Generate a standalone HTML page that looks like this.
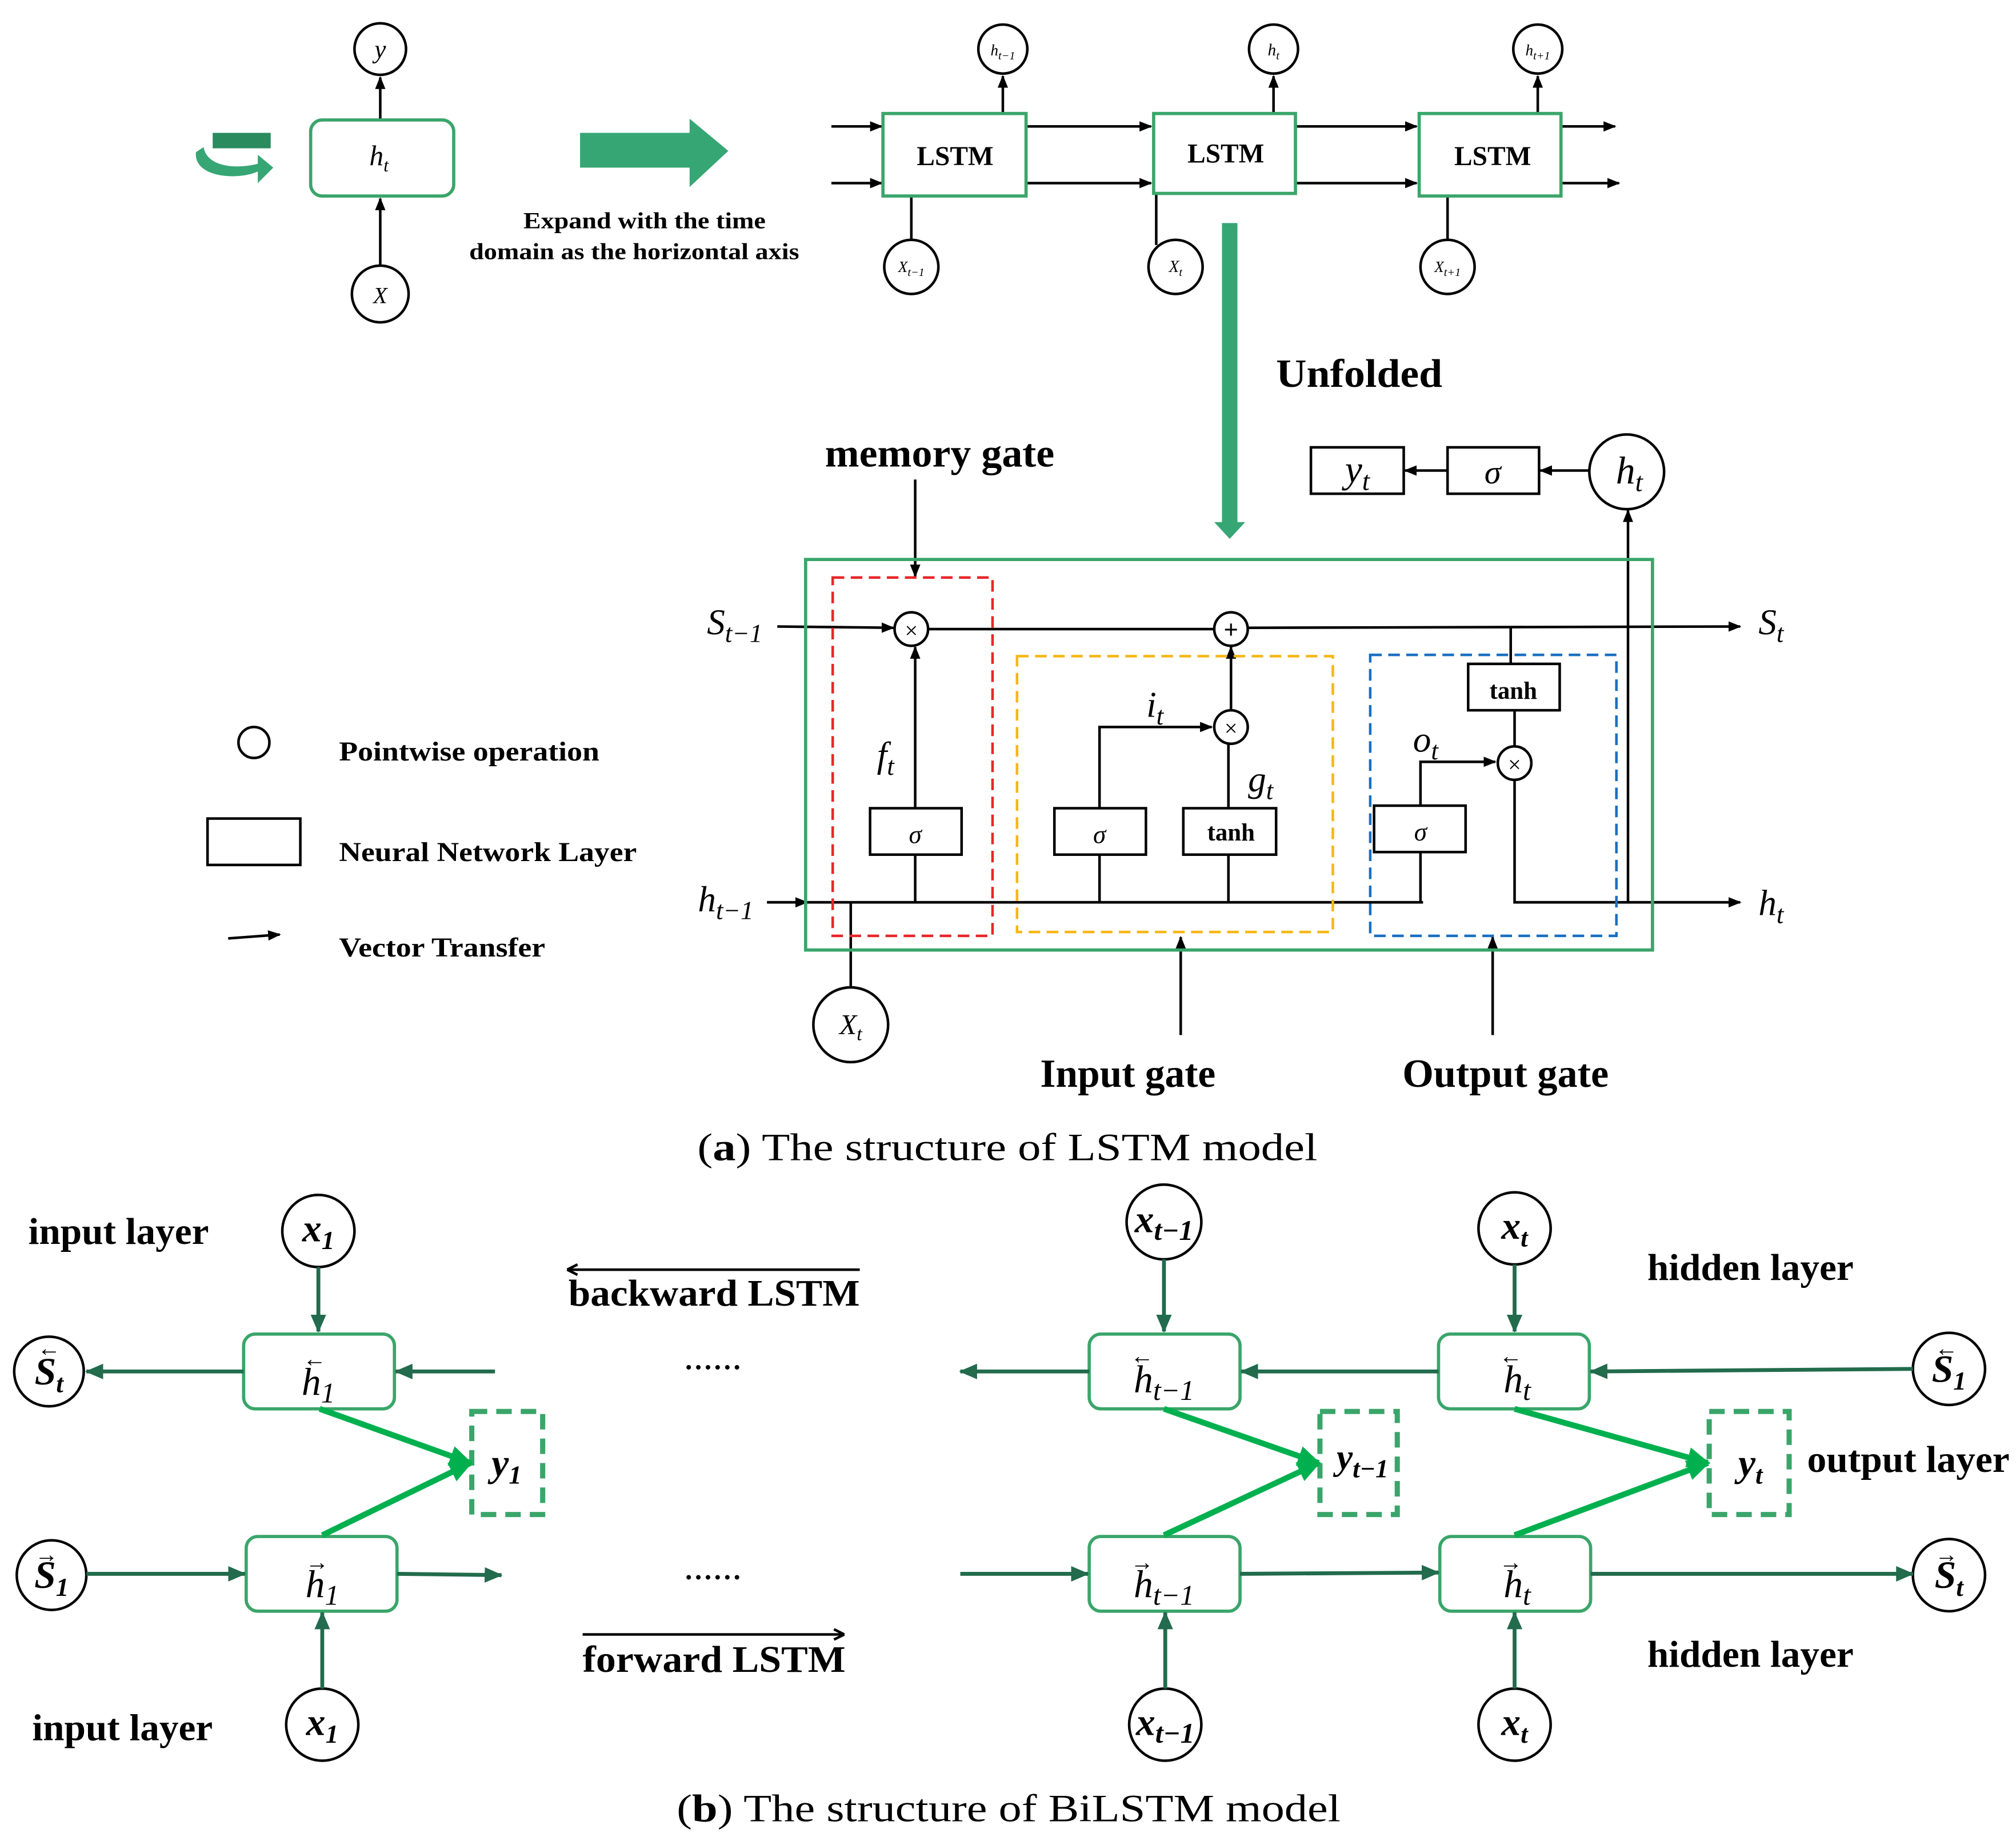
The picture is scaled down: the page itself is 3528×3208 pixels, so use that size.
<!DOCTYPE html>
<html><head><meta charset="utf-8"><style>html,body{margin:0;padding:0;background:#fff}svg{display:block}</style></head>
<body>
<svg width="3528" height="3208" viewBox="0 0 1564 1422" xmlns="http://www.w3.org/2000/svg" font-family="Liberation Serif, serif">
<defs>
<marker id="a" markerWidth="10" markerHeight="8" refX="9" refY="4" orient="auto" markerUnits="userSpaceOnUse"><path d="M0,0 L10,4 L0,8 Z" fill="#000"/></marker>
<marker id="g" markerWidth="14" markerHeight="12" refX="13" refY="6" orient="auto" markerUnits="userSpaceOnUse"><path d="M0,0 L14,6 L0,12 Z" fill="#226b4d"/></marker>
<marker id="b" markerWidth="18" markerHeight="16" refX="16" refY="8" orient="auto" markerUnits="userSpaceOnUse"><path d="M0,0 L18,8 L0,16 Z" fill="#00b04f"/></marker>
</defs>
<g fill="none" stroke="#000" stroke-width="2">
<circle cx="295" cy="38" r="20"/><circle cx="295" cy="228" r="22"/>
<line x1="295" y1="206" x2="295" y2="154" marker-end="url(#a)"/>
<line x1="295" y1="93" x2="295" y2="60" marker-end="url(#a)"/>
<circle cx="778" cy="38" r="19"/><circle cx="988" cy="38" r="19"/><circle cx="1193" cy="38" r="19"/>
<circle cx="707" cy="207" r="21"/><circle cx="912" cy="207" r="21"/><circle cx="1123" cy="207" r="21"/>
<line x1="778" y1="88" x2="778" y2="59" marker-end="url(#a)"/>
<line x1="988" y1="88" x2="988" y2="59" marker-end="url(#a)"/>
<line x1="1193" y1="88" x2="1193" y2="59" marker-end="url(#a)"/>
<line x1="707" y1="152" x2="707" y2="186"/><line x1="897" y1="150" x2="897" y2="190"/><line x1="1123" y1="152" x2="1123" y2="186"/>
<line x1="645" y1="98" x2="684" y2="98" marker-end="url(#a)"/><line x1="645" y1="142" x2="684" y2="142" marker-end="url(#a)"/>
<line x1="796" y1="98" x2="893" y2="98" marker-end="url(#a)"/><line x1="796" y1="142" x2="893" y2="142" marker-end="url(#a)"/>
<line x1="1005" y1="98" x2="1099" y2="98" marker-end="url(#a)"/><line x1="1005" y1="142" x2="1099" y2="142" marker-end="url(#a)"/>
<line x1="1211" y1="98" x2="1253" y2="98" marker-end="url(#a)"/><line x1="1211" y1="142" x2="1256" y2="142" marker-end="url(#a)"/>
<line x1="603" y1="486" x2="693" y2="487" marker-end="url(#a)"/>
<circle cx="707" cy="488" r="13"/><circle cx="955" cy="488" r="13"/>
<line x1="720" y1="488" x2="942" y2="488"/><line x1="968" y1="487" x2="1350" y2="486" marker-end="url(#a)"/>
<line x1="710" y1="372" x2="710" y2="447" marker-end="url(#a)"/>
<rect x="675" y="627" width="71" height="36"/>
<line x1="710" y1="627" x2="710" y2="502" marker-end="url(#a)"/>
<line x1="710" y1="663" x2="710" y2="700"/>
<line x1="595" y1="700" x2="626" y2="700" marker-end="url(#a)"/>
<line x1="626" y1="700" x2="1104" y2="700"/>
<line x1="660" y1="700" x2="660" y2="766"/><circle cx="660" cy="795" r="29"/>
<rect x="818" y="627" width="71" height="36"/><rect x="918" y="627" width="72" height="36"/>
<line x1="853" y1="700" x2="853" y2="663"/><line x1="953" y1="700" x2="953" y2="663"/>
<polyline points="853,627 853,564 940,564" marker-end="url(#a)"/>
<circle cx="955" cy="564" r="13"/>
<line x1="953" y1="627" x2="953" y2="577"/>
<line x1="955" y1="551" x2="955" y2="502" marker-end="url(#a)"/>
<rect x="1066" y="625" width="71" height="36"/>
<line x1="1102" y1="700" x2="1102" y2="661"/>
<polyline points="1102,625 1102,591 1160,591" marker-end="url(#a)"/>
<circle cx="1175" cy="592" r="13"/>
<rect x="1139" y="515" width="71" height="36"/>
<line x1="1172" y1="486" x2="1172" y2="515"/><line x1="1175" y1="551" x2="1175" y2="579"/>
<polyline points="1175,605 1175,700 1350,700" marker-end="url(#a)"/>
<line x1="1263" y1="700" x2="1263" y2="396" marker-end="url(#a)"/>
<circle cx="1262" cy="366" r="29"/>
<rect x="1017" y="347" width="72" height="36"/><rect x="1123" y="347" width="71" height="36"/>
<line x1="1233" y1="365" x2="1195" y2="365" marker-end="url(#a)"/>
<line x1="1123" y1="365" x2="1090" y2="365" marker-end="url(#a)"/>
<line x1="916" y1="803" x2="916" y2="727" marker-end="url(#a)"/>
<line x1="1158" y1="803" x2="1158" y2="727" marker-end="url(#a)"/>
<circle cx="197" cy="576" r="12"/><rect x="161" y="635" width="72" height="36"/>
<line x1="177" y1="728" x2="217" y2="725" marker-end="url(#a)"/>
<circle cx="247" cy="955" r="28"/><circle cx="38" cy="1064" r="27"/><circle cx="40" cy="1222" r="27"/><circle cx="250" cy="1338" r="28"/>
<circle cx="903" cy="948" r="29"/><circle cx="1175" cy="953" r="28"/><circle cx="1512" cy="1062" r="28"/><circle cx="1512" cy="1222" r="28"/>
<circle cx="904" cy="1338" r="28"/><circle cx="1175" cy="1338" r="28"/>
<line x1="440" y1="985" x2="667" y2="985"/><path d="M440,985 l8,-4 M440,985 l8,4"/>
<line x1="452" y1="1268" x2="655" y2="1268"/><path d="M655,1268 l-8,-4 M655,1268 l-8,4"/>
</g>
<g fill="none" stroke="#3aa56a" stroke-width="2.5">
<rect x="241" y="93" width="111" height="59" rx="9"/>
<rect x="685" y="88" width="111" height="64"/><rect x="895" y="88" width="110" height="62"/><rect x="1101" y="88" width="110" height="64"/>
<rect x="625" y="434" width="657" height="303"/>
<rect x="189" y="1035" width="117" height="58" rx="9"/><rect x="191" y="1192" width="117" height="58" rx="9"/>
<rect x="845" y="1035" width="117" height="58" rx="9"/><rect x="1116" y="1035" width="117" height="58" rx="9"/>
<rect x="845" y="1192" width="117" height="58" rx="9"/><rect x="1117" y="1192" width="117" height="58" rx="9"/>
</g>
<g fill="none" stroke="#3aa56a" stroke-width="4" stroke-dasharray="12,7">
<rect x="366" y="1095" width="55" height="80"/><rect x="1024" y="1095" width="60" height="80"/><rect x="1326" y="1095" width="62" height="80"/>
</g>
<g fill="none" stroke-width="2" stroke-dasharray="9,5">
<rect x="646" y="448" width="124" height="278" stroke="#e8262a"/>
<rect x="789" y="509" width="245" height="214" stroke="#f5b716"/>
<rect x="1063" y="508" width="191" height="218" stroke="#1a6fc0"/>
</g>
<path d="M450,103 H535 V92 L565,117 L535,145 V130 H450 Z" fill="#36a674"/>
<path d="M948,173 H960 V405 H966 L954,418 L942,405 H948 Z" fill="#36a674"/>
<path d="M152,118 C150,138 185,140 200,133 L200,142 L212,130 L200,120 L200,127 C180,132 160,128 158,114 Z" fill="#36a674"/>
<rect x="165" y="103" width="45" height="12" fill="#2a8b5e"/>
<g stroke="#226b4d" stroke-width="3" fill="none">
<line x1="247" y1="983" x2="247" y2="1033" marker-end="url(#g)"/>
<line x1="189" y1="1064" x2="67" y2="1064" marker-end="url(#g)"/>
<line x1="384" y1="1064" x2="307" y2="1064" marker-end="url(#g)"/>
<line x1="67" y1="1221" x2="190" y2="1221" marker-end="url(#g)"/>
<line x1="308" y1="1221" x2="389" y2="1222" marker-end="url(#g)"/>
<line x1="250" y1="1310" x2="250" y2="1251" marker-end="url(#g)"/>
<line x1="903" y1="977" x2="903" y2="1033" marker-end="url(#g)"/>
<line x1="1175" y1="981" x2="1175" y2="1033" marker-end="url(#g)"/>
<line x1="1484" y1="1062" x2="1234" y2="1064" marker-end="url(#g)"/>
<line x1="1116" y1="1064" x2="963" y2="1064" marker-end="url(#g)"/>
<line x1="845" y1="1064" x2="745" y2="1064" marker-end="url(#g)"/>
<line x1="745" y1="1221" x2="844" y2="1221" marker-end="url(#g)"/>
<line x1="962" y1="1221" x2="1116" y2="1220" marker-end="url(#g)"/>
<line x1="1234" y1="1221" x2="1484" y2="1221" marker-end="url(#g)"/>
<line x1="904" y1="1310" x2="904" y2="1251" marker-end="url(#g)"/>
<line x1="1175" y1="1310" x2="1175" y2="1251" marker-end="url(#g)"/>
</g>
<g stroke="#00b04f" stroke-width="4.5" fill="none">
<line x1="248" y1="1093" x2="365" y2="1135" marker-end="url(#b)"/>
<line x1="250" y1="1191" x2="365" y2="1135" marker-end="url(#b)"/>
<line x1="903" y1="1093" x2="1023" y2="1135" marker-end="url(#b)"/>
<line x1="903" y1="1191" x2="1023" y2="1135" marker-end="url(#b)"/>
<line x1="1175" y1="1093" x2="1325" y2="1135" marker-end="url(#b)"/>
<line x1="1175" y1="1191" x2="1325" y2="1135" marker-end="url(#b)"/>
</g>
<g fill="#000" font-style="italic" text-anchor="middle">
<text x="295" y="45" font-size="20">y</text>
<text x="294" y="128" font-size="22">h<tspan font-size="14" dy="5">t</tspan></text>
<text x="295" y="235" font-size="18">X</text>
<text x="778" y="43" font-size="12">h<tspan font-size="9" dy="3">t−1</tspan></text>
<text x="988" y="43" font-size="13">h<tspan font-size="9" dy="3">t</tspan></text>
<text x="1193" y="43" font-size="12">h<tspan font-size="9" dy="3">t+1</tspan></text>
<text x="707" y="211" font-size="12">X<tspan font-size="9" dy="3">t−1</tspan></text>
<text x="912" y="211" font-size="13">X<tspan font-size="9" dy="3">t</tspan></text>
<text x="1123" y="211" font-size="12">X<tspan font-size="9" dy="3">t+1</tspan></text>
<text x="570" y="492" font-size="28">S<tspan font-size="20" dy="6">t−1</tspan></text>
<text x="1374" y="492" font-size="28">S<tspan font-size="20" dy="6">t</tspan></text>
<text x="563" y="707" font-size="28">h<tspan font-size="20" dy="6">t−1</tspan></text>
<text x="1374" y="710" font-size="28">h<tspan font-size="20" dy="6">t</tspan></text>
<text x="687" y="595" font-size="28">f<tspan font-size="20" dy="6">t</tspan></text>
<text x="896" y="556" font-size="28">i<tspan font-size="20" dy="6">t</tspan></text>
<text x="978" y="614" font-size="28">g<tspan font-size="20" dy="6">t</tspan></text>
<text x="1106" y="583" font-size="28">o<tspan font-size="20" dy="6">t</tspan></text>
<text x="1053" y="374" font-size="30">y<tspan font-size="21" dy="6">t</tspan></text>
<text x="1158" y="375" font-size="26">σ</text>
<text x="1264" y="375" font-size="30">h<tspan font-size="21" dy="6">t</tspan></text>
<text x="710" y="654" font-size="20">σ</text><text x="853" y="654" font-size="20">σ</text><text x="1102" y="652" font-size="20">σ</text>
<text x="660" y="802" font-size="22">X<tspan font-size="15" dy="5">t</tspan></text>
<text x="707" y="495" font-size="18" font-style="normal">×</text>
<text x="955" y="495" font-size="20" font-style="normal" font-weight="bold">+</text>
<text x="955" y="571" font-size="18" font-style="normal">×</text>
<text x="1175" y="599" font-size="18" font-style="normal">×</text>
</g>
<g fill="#000" font-weight="bold" font-style="italic" text-anchor="middle" font-size="30">
<text x="247" y="963">x<tspan font-size="20" dy="6">1</tspan></text>
<text x="250" y="1346">x<tspan font-size="20" dy="6">1</tspan></text>
<text x="903" y="956">x<tspan font-size="22" dy="6">t−1</tspan></text>
<text x="904" y="1346">x<tspan font-size="22" dy="6">t−1</tspan></text>
<text x="1175" y="961">x<tspan font-size="20" dy="6">t</tspan></text>
<text x="1175" y="1346">x<tspan font-size="20" dy="6">t</tspan></text>
<text x="393" y="1145">y<tspan font-size="20" dy="6">1</tspan></text>
<text x="1057" y="1140" font-size="28">y<tspan font-size="20" dy="6">t−1</tspan></text>
<text x="1358" y="1145">y<tspan font-size="20" dy="6">t</tspan></text>
<text x="38" y="1074">S<tspan font-size="20" dy="6">t</tspan></text>
<text x="40" y="1232">S<tspan font-size="20" dy="6">1</tspan></text>
<text x="1512" y="1072">S<tspan font-size="20" dy="6">1</tspan></text>
<text x="1512" y="1232">S<tspan font-size="20" dy="6">t</tspan></text>
</g>
<g fill="#000" font-style="italic" text-anchor="middle" font-size="30">
<text x="247" y="1082">h<tspan font-size="22" dy="6">1</tspan></text>
<text x="250" y="1239">h<tspan font-size="22" dy="6">1</tspan></text>
<text x="903" y="1080">h<tspan font-size="22" dy="6">t−1</tspan></text>
<text x="903" y="1239">h<tspan font-size="22" dy="6">t−1</tspan></text>
<text x="1177" y="1080">h<tspan font-size="22" dy="6">t</tspan></text>
<text x="1177" y="1239">h<tspan font-size="22" dy="6">t</tspan></text>
</g>
<g fill="#000" font-size="18" text-anchor="middle">
<text x="38" y="1052">←</text><text x="36" y="1212">→</text><text x="1510" y="1052">←</text><text x="1510" y="1212">→</text>
<text x="244" y="1060">←</text><text x="246" y="1218">→</text><text x="886" y="1058">←</text><text x="886" y="1218">→</text><text x="1172" y="1058">←</text><text x="1172" y="1218">→</text>
</g>
<g fill="#000" font-weight="bold" lengthAdjust="spacingAndGlyphs">
<text x="406" y="177" font-size="18" textLength="188" lengthAdjust="spacingAndGlyphs">Expand with the time</text>
<text x="364" y="201" font-size="18" textLength="256" lengthAdjust="spacingAndGlyphs">domain as the horizontal axis</text>
<text x="741" y="128" font-size="21" text-anchor="middle">LSTM</text>
<text x="951" y="126" font-size="21" text-anchor="middle">LSTM</text>
<text x="1158" y="128" font-size="21" text-anchor="middle">LSTM</text>
<text x="990" y="300" font-size="31" textLength="129" lengthAdjust="spacingAndGlyphs">Unfolded</text>
<text x="640" y="362" font-size="31" textLength="178" lengthAdjust="spacingAndGlyphs">memory gate</text>
<text x="807" y="843" font-size="31" textLength="136" lengthAdjust="spacingAndGlyphs">Input gate</text>
<text x="1088" y="843" font-size="31" textLength="160" lengthAdjust="spacingAndGlyphs">Output gate</text>
<text x="1174" y="542" font-size="19" text-anchor="middle">tanh</text>
<text x="955" y="652" font-size="19" text-anchor="middle">tanh</text>
<text x="263" y="590" font-size="21" textLength="202" lengthAdjust="spacingAndGlyphs">Pointwise operation</text>
<text x="263" y="668" font-size="21" textLength="231" lengthAdjust="spacingAndGlyphs">Neural Network Layer</text>
<text x="263" y="742" font-size="21" textLength="160" lengthAdjust="spacingAndGlyphs">Vector Transfer</text>
<text x="22" y="965" font-size="29" textLength="140" lengthAdjust="spacingAndGlyphs">input layer</text>
<text x="25" y="1350" font-size="29" textLength="140" lengthAdjust="spacingAndGlyphs">input layer</text>
<text x="441" y="1013" font-size="29" textLength="226" lengthAdjust="spacingAndGlyphs">backward LSTM</text>
<text x="452" y="1297" font-size="29" textLength="204" lengthAdjust="spacingAndGlyphs">forward LSTM</text>
<text x="1278" y="993" font-size="29" textLength="160" lengthAdjust="spacingAndGlyphs">hidden layer</text>
<text x="1278" y="1293" font-size="29" textLength="160" lengthAdjust="spacingAndGlyphs">hidden layer</text>
<text x="1402" y="1142" font-size="29" textLength="157" lengthAdjust="spacingAndGlyphs">output layer</text>
</g>
<g fill="#000" font-size="30">
<text x="553" y="1062" text-anchor="middle">......</text><text x="553" y="1225" text-anchor="middle">......</text>
<text x="541" y="900" textLength="481" lengthAdjust="spacingAndGlyphs">(<tspan font-weight="bold">a</tspan>) The structure of LSTM model</text>
<text x="525" y="1413" textLength="515" lengthAdjust="spacingAndGlyphs">(<tspan font-weight="bold">b</tspan>) The structure of BiLSTM model</text>
</g>
</svg>
</body></html>
